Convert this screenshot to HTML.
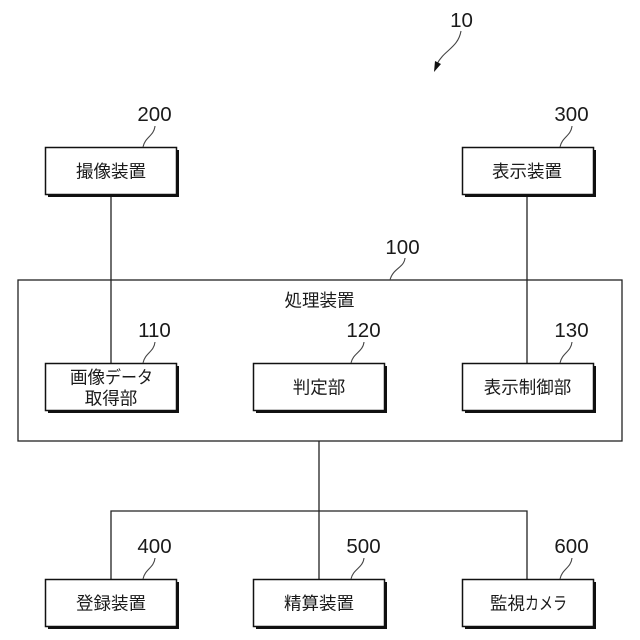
<!DOCTYPE html>
<html><head><meta charset="utf-8"><style>
html,body{margin:0;padding:0;background:#fff}
svg{display:block}
text{fill:#1a1a1a}
.n{font-family:"Liberation Sans",sans-serif;font-size:20.5px;text-anchor:middle}
.j{font-family:"Liberation Sans","Noto Sans CJK JP",sans-serif;font-size:17.5px;text-anchor:middle}
.e{text-anchor:end}
.st{text-anchor:start}
.l{stroke:#222;stroke-width:1.3;fill:none}
.c{stroke:#444;stroke-width:1.1;fill:none}
.b{fill:#fff;stroke:#111;stroke-width:1.5}
.s{fill:#111}
</style></head><body>
<svg width="640" height="640" viewBox="0 0 640 640" xmlns="http://www.w3.org/2000/svg">
<rect x="18" y="280" width="604" height="161" fill="#fff" stroke="#222" stroke-width="1.3"/>
<path class="l" d="M111 194V363M527 194V363M319 441V579M111 579V511H527V579"/>

<rect class="s" x="48" y="150" width="131" height="47"/><rect class="b" x="45.5" y="147.5" width="131" height="47"/>
<rect class="s" x="465" y="150" width="131" height="47"/><rect class="b" x="462.5" y="147.5" width="131" height="47"/>
<rect class="s" x="48" y="366" width="131" height="47"/><rect class="b" x="45.5" y="363.5" width="131" height="47"/>
<rect class="s" x="256" y="366" width="131" height="47"/><rect class="b" x="253.5" y="363.5" width="131" height="47"/>
<rect class="s" x="465" y="366" width="131" height="47"/><rect class="b" x="462.5" y="363.5" width="131" height="47"/>
<rect class="s" x="48" y="582" width="131" height="47"/><rect class="b" x="45.5" y="579.5" width="131" height="47"/>
<rect class="s" x="256" y="582" width="131" height="47"/><rect class="b" x="253.5" y="579.5" width="131" height="47"/>
<rect class="s" x="465" y="582" width="131" height="47"/><rect class="b" x="462.5" y="579.5" width="131" height="47"/>

<path class="c" d="M155 126C154 136 145 137 143 147M572 126C571 136 562 137 560 147M405 258C404 268 393 268 390 280M155 342C154 352 145 353 143 363M364 342C363 352 353 353 351 363M572 342C571 352 562 353 560 363M155 558C154 568 145 569 143 579M364 558C363 568 353 569 351 579M572 558C571 568 562 569 560 579"/>
<path class="c" d="M461 31C458 48 444 50 437 64"/>
<path fill="#111" d="M434 72L435 61L441 64Z"/>

<text class="n" x="154.500" y="121">200</text>
<text class="n" x="571.500" y="121">300</text>
<text class="n" x="402.500" y="254">100</text>
<text class="n" x="154.500" y="337">110</text>
<text class="n" x="363.500" y="337">120</text>
<text class="n" x="571.500" y="337">130</text>
<text class="n" x="154.500" y="553">400</text>
<text class="n" x="363.500" y="553">500</text>
<text class="n" x="571.500" y="553">600</text>
<text class="n" x="461.500" y="27">10</text>

<text class="j" x="111" y="177.500">撮像装置</text>
<text class="j" x="527" y="177.500">表示装置</text>
<text class="j" x="319.500" y="306.500">処理装置</text>
<text class="j e" x="105" y="383.500">画像</text>
<text class="j st" transform="translate(105,383.500) scale(.914,1)">データ</text>
<text class="j" x="111" y="404.500">取得部</text>
<text class="j" x="319" y="393.500">判定部</text>
<text class="j" x="527.500" y="393.500">表示制御部</text>
<text class="j" x="111" y="609.500">登録装置</text>
<text class="j" x="319" y="609.500">精算装置</text>
<text class="j e" x="525" y="609.500">監視</text>
<text class="j st" transform="translate(525,609.500) scale(.8,1)">カメラ</text>
</svg>
</body></html>
